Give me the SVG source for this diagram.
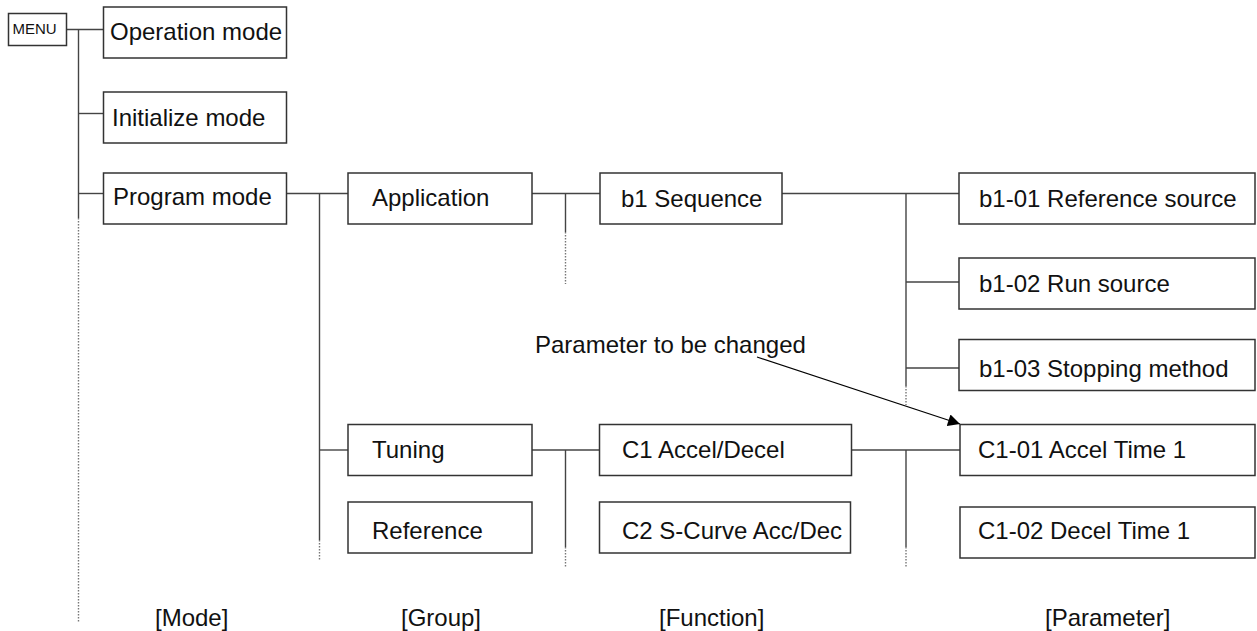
<svg xmlns="http://www.w3.org/2000/svg" width="1257" height="631" viewBox="0 0 1257 631">
<defs>
<style>
.box{fill:#fff;stroke:#333;stroke-width:1.5}
.t{font-family:"Liberation Sans",Arial,sans-serif;font-size:24px;fill:#111}
.ln{stroke:#444;stroke-width:1.4;fill:none}
.dt{stroke:#777;stroke-width:1.4;stroke-dasharray:1.5 1.5;fill:none}
</style>
<marker id="ah" viewBox="0 0 10 10" refX="10" refY="5" markerWidth="17" markerHeight="12" markerUnits="userSpaceOnUse" orient="auto">
<path d="M0,0 L10,5 L0,10 z" fill="#000"/>
</marker>
</defs>
<rect width="1257" height="631" fill="#fff"/>
<g id="connectors">
<line class="ln" x1="67" y1="29.5" x2="103" y2="29.5"/>
<line class="ln" x1="78.5" y1="29.5" x2="78.5" y2="218"/>
<line class="dt" x1="78.5" y1="218" x2="78.5" y2="622"/>
<line class="ln" x1="78.5" y1="113.5" x2="103" y2="113.5"/>
<line class="ln" x1="78.5" y1="193.5" x2="103" y2="193.5"/>
<line class="ln" x1="287" y1="193.5" x2="348" y2="193.5"/>
<line class="ln" x1="319.5" y1="193.5" x2="319.5" y2="540"/>
<line class="dt" x1="319.5" y1="540" x2="319.5" y2="560"/>
<line class="ln" x1="319.5" y1="450" x2="348" y2="450"/>
<line class="ln" x1="532" y1="193.5" x2="600" y2="193.5"/>
<line class="ln" x1="565.5" y1="193.5" x2="565.5" y2="232"/>
<line class="dt" x1="565.5" y1="232" x2="565.5" y2="284"/>
<line class="ln" x1="532" y1="450" x2="599" y2="450"/>
<line class="ln" x1="565.5" y1="450" x2="565.5" y2="547"/>
<line class="dt" x1="565.5" y1="547" x2="565.5" y2="568"/>
<line class="ln" x1="782" y1="193.5" x2="959" y2="193.5"/>
<line class="ln" x1="906" y1="193.5" x2="906" y2="386"/>
<line class="dt" x1="906" y1="386" x2="906" y2="405"/>
<line class="ln" x1="906" y1="282" x2="959" y2="282"/>
<line class="ln" x1="906" y1="368" x2="959" y2="368"/>
<line class="ln" x1="852" y1="450" x2="960" y2="450"/>
<line class="ln" x1="906" y1="450" x2="906" y2="547"/>
<line class="dt" x1="906" y1="547" x2="906" y2="568"/>
<line x1="757" y1="357" x2="960" y2="424" stroke="#000" stroke-width="1.2" marker-end="url(#ah)"/>
</g>
<g id="menu"><rect class="box" x="8.5" y="13.5" width="58" height="32"/><text x="12.5" y="33.5" font-family="Liberation Sans,Arial,sans-serif" font-size="15" fill="#111">MENU</text></g>
<g id="operation-mode"><rect class="box" x="103.5" y="7" width="183" height="51"/><text class="t" x="110" y="40">Operation mode</text></g>
<g id="initialize-mode"><rect class="box" x="103.5" y="92" width="183" height="51"/><text class="t" x="112" y="126">Initialize mode</text></g>
<g id="program-mode"><rect class="box" x="103.5" y="173" width="183" height="51"/><text class="t" x="113" y="205">Program mode</text></g>
<g id="application"><rect class="box" x="348" y="173" width="184" height="51"/><text class="t" x="372" y="206">Application</text></g>
<g id="tuning"><rect class="box" x="348" y="424.5" width="184" height="51"/><text class="t" x="372" y="458">Tuning</text></g>
<g id="reference"><rect class="box" x="348" y="502" width="184" height="51"/><text class="t" x="372" y="539">Reference</text></g>
<g id="b1-sequence"><rect class="box" x="600" y="173" width="182" height="51"/><text class="t" x="621" y="207">b1 Sequence</text></g>
<g id="c1-accel-decel"><rect class="box" x="599.5" y="424.5" width="252" height="51"/><text class="t" x="622" y="458">C1 Accel/Decel</text></g>
<g id="c2-s-curve"><rect class="box" x="599.5" y="502" width="251" height="51"/><text class="t" x="622" y="539">C2 S-Curve Acc/Dec</text></g>
<g id="b1-01"><rect class="box" x="959" y="173" width="296" height="51"/><text class="t" x="979" y="207">b1-01 Reference source</text></g>
<g id="b1-02"><rect class="box" x="959" y="258" width="296" height="51"/><text class="t" x="979" y="292">b1-02 Run source</text></g>
<g id="b1-03"><rect class="box" x="959" y="339.5" width="296" height="51"/><text class="t" x="979" y="377">b1-03 Stopping method</text></g>
<g id="c1-01"><rect class="box" x="960" y="424.5" width="295" height="51"/><text class="t" x="978" y="458">C1-01 Accel Time 1</text></g>
<g id="c1-02"><rect class="box" x="960" y="507" width="295" height="51"/><text class="t" x="978" y="539">C1-02 Decel Time 1</text></g>
<g id="labels">
<text class="t" x="535" y="353">Parameter to be changed</text>
<text class="t" x="155" y="626">[Mode]</text>
<text class="t" x="401" y="626">[Group]</text>
<text class="t" x="659" y="626">[Function]</text>
<text class="t" x="1045" y="626">[Parameter]</text>
</g>
</svg>
